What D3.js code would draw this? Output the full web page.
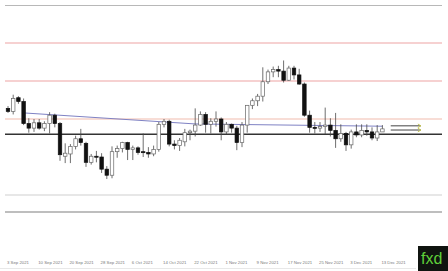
<!DOCTYPE html>
<html>
<head>
<meta charset="utf-8">
<script src="https://cdn.jsdelivr.net/npm/d3@7"></script>
<style>
  body { margin: 0; background: #fff; }
  svg { display: block; }
</style>
</head>
<body>
<svg id="chart"></svg>
<script>

// daily gold candles, 2 Sep - 13 Dec 2021
var dates = ["2 Sep","3 Sep","6 Sep","7 Sep","8 Sep","9 Sep","10 Sep","13 Sep","14 Sep","15 Sep",
  "16 Sep","17 Sep","20 Sep","21 Sep","22 Sep","23 Sep","24 Sep","27 Sep","28 Sep","29 Sep",
  "30 Sep","1 Oct","4 Oct","5 Oct","6 Oct","7 Oct","8 Oct","11 Oct","12 Oct","13 Oct",
  "14 Oct","15 Oct","18 Oct","19 Oct","20 Oct","21 Oct","22 Oct","25 Oct","26 Oct","27 Oct",
  "28 Oct","29 Oct","1 Nov","2 Nov","3 Nov","4 Nov","5 Nov","8 Nov","9 Nov","10 Nov",
  "11 Nov","12 Nov","15 Nov","16 Nov","17 Nov","18 Nov","19 Nov","22 Nov","23 Nov","24 Nov",
  "25 Nov","26 Nov","29 Nov","30 Nov","1 Dec","2 Dec","3 Dec","6 Dec","7 Dec","8 Dec",
  "9 Dec","10 Dec","13 Dec"];

var opens  = [1814,1810,1828,1823,1794,1788,1795,1788,1794,1805,
  1794,1751,1754,1764,1774,1768,1743,1751,1750,1734,
  1726,1757,1761,1769,1760,1762,1757,1756,1754,1760,
  1793,1797,1767,1765,1770,1782,1784,1792,1806,1793,
  1797,1800,1783,1793,1788,1769,1792,1818,1824,1830,
  1849,1862,1865,1863,1851,1867,1858,1846,1805,1789,
  1788,1790,1792,1785,1774,1781,1766,1783,1779,1785,
  1783,1775,1783];
var highs  = [1817,1832,1830,1827,1801,1800,1800,1797,1809,1807,
  1796,1768,1767,1778,1787,1770,1754,1758,1755,1738,
  1764,1765,1770,1770,1765,1764,1781,1763,1765,1796,
  1800,1799,1772,1775,1787,1786,1814,1810,1809,1801,
  1810,1802,1796,1794,1791,1796,1818,1827,1833,1868,
  1865,1869,1870,1877,1870,1870,1866,1848,1811,1796,
  1796,1815,1801,1808,1793,1783,1786,1793,1793,1793,
  1789,1792,1792];
var lows   = [1808,1806,1820,1792,1782,1783,1786,1784,1781,1789,
  1745,1742,1742,1760,1765,1737,1740,1743,1729,1721,
  1722,1749,1756,1746,1746,1753,1750,1749,1751,1757,
  1789,1764,1760,1758,1764,1772,1777,1791,1782,1781,
  1790,1772,1780,1782,1759,1763,1782,1813,1817,1823,
  1846,1855,1855,1848,1850,1852,1845,1803,1782,1781,
  1783,1780,1777,1762,1770,1758,1761,1776,1776,1778,
  1772,1771,1783];
var closes = [1810,1827,1823,1794,1788,1795,1788,1794,1805,1794,
  1753,1755,1764,1774,1769,1743,1751,1750,1734,1726,
  1757,1761,1769,1760,1762,1756,1756,1754,1760,1793,
  1797,1767,1765,1772,1782,1784,1792,1806,1793,1797,
  1800,1783,1793,1788,1769,1792,1818,1824,1830,1849,
  1862,1865,1863,1851,1867,1858,1846,1805,1789,1788,
  1790,1792,1785,1774,1781,1766,1783,1779,1785,1783,
  1775,1783,1787];

// date labels under the chart, one every 6 bars
var tickBars   = [0,6,12,18,24,30,36,42,48,54,60,66,72];
var tickLabels = ["3 Sep 2021","10 Sep 2021","20 Sep 2021","28 Sep 2021","6 Oct 2021","14 Oct 2021",
  "22 Oct 2021","1 Nov 2021","9 Nov 2021","17 Nov 2021","25 Nov 2021","3 Dec 2021","13 Dec 2021"];

// horizontal price levels
var redLevels  = [1900, 1850];
var orangeLevels = [1800];
var blackLevels = [1780];
var grayLevels = [1700];

// blue trend line (bar, price)
var trendBars   = [3, 36, 72];
var trendPrices = [1808, 1793.5, 1790.5];

// price arrows right of the last bar
var arrowPrices = [1791, 1785.5];

var width = 448;
var height = 271;
var left = 5, right = 442;

var svg = d3.select("#chart")
  .attr("width", width)
  .attr("height", height);

var x = d3.scaleLinear().domain([0, 72]).range([8, 382.4]);
var y = d3.scaleLinear().domain([1675, 1950]).range([214, 5]);

// frame lines
svg.append("line")
  .attr("x1", left).attr("x2", right)
  .attr("y1", 5.5).attr("y2", 5.5)
  .attr("stroke", "#b8b8b8").attr("stroke-width", 1.2);
svg.append("line")
  .attr("x1", left).attr("x2", right)
  .attr("y1", 212).attr("y2", 212)
  .attr("stroke", "#a8a8a8").attr("stroke-width", 1.6);
svg.append("line")
  .attr("x1", 0).attr("x2", 416)
  .attr("y1", 268.5).attr("y2", 268.5)
  .attr("stroke", "#e8e8e8").attr("stroke-width", 1);

var drawLevels = function(levels, color, w)
{
  svg.selectAll(null)
    .data(levels)
    .enter()
    .append("line")
    .attr("x1", left)
    .attr("x2", right)
    .attr("y1", function(d) { return y(d); })
    .attr("y2", function(d) { return y(d); })
    .attr("stroke", color)
    .attr("stroke-width", w);
}

drawLevels(grayLevels, "#cfcfcf", 1.2);
drawLevels(redLevels, "#eea4a4", 1.2);
drawLevels(orangeLevels, "#f1bcae", 1.2);

// trend line
var trend = trendBars.map(function(b, i) { return [x(b), y(trendPrices[i])]; });
svg.append("path")
  .attr("d", d3.line()(trend))
  .attr("fill", "none")
  .attr("stroke", "#7f82c4")
  .attr("stroke-width", 1);

drawLevels(blackLevels, "#333", 1.4);

// candles
var bars = d3.range(opens.length);
var bodyW = 3.5;

svg.selectAll(".wick")
  .data(bars)
  .enter()
  .append("line")
  .attr("class", "wick")
  .attr("x1", function(i) { return x(i); })
  .attr("x2", function(i) { return x(i); })
  .attr("y1", function(i) { return y(highs[i]); })
  .attr("y2", function(i) { return y(lows[i]); })
  .attr("stroke", "#4a4a4a")
  .attr("stroke-width", 0.8);

svg.selectAll(".body")
  .data(bars)
  .enter()
  .append("rect")
  .attr("class", "body")
  .attr("x", function(i) { return x(i) - bodyW / 2; })
  .attr("y", function(i) { return y(Math.max(opens[i], closes[i])); })
  .attr("width", bodyW)
  .attr("height", function(i) { return Math.max(1, Math.abs(y(opens[i]) - y(closes[i]))); })
  .attr("fill", function(i) { return closes[i] >= opens[i] ? "#fff" : "#111"; })
  .attr("stroke", function(i) { return closes[i] >= opens[i] ? "#666" : "#111"; })
  .attr("stroke-width", 0.7);

// price arrows
svg.selectAll(".arrow")
  .data(arrowPrices)
  .enter()
  .append("line")
  .attr("class", "arrow")
  .attr("x1", x(73.6))
  .attr("x2", x(79.4))
  .attr("y1", function(d) { return y(d); })
  .attr("y2", function(d) { return y(d); })
  .attr("stroke", "#444")
  .attr("stroke-width", 1);

svg.selectAll(".head")
  .data(arrowPrices)
  .enter()
  .append("path")
  .attr("class", "head")
  .attr("d", function(d)
    {
      var ax = x(79.4), ay = y(d);
      return "M" + (ax - 3) + "," + (ay - 1.8) + "L" + ax + "," + ay + "L" + (ax - 3) + "," + (ay + 1.8);
    })
  .attr("fill", "none")
  .attr("stroke", "#c8c850")
  .attr("stroke-width", 1);

// date labels
svg.selectAll(".tick")
  .data(tickBars)
  .enter()
  .append("text")
  .attr("class", "tick")
  .text(function(d, i) { return tickLabels[i]; })
  .attr("x", function(d) { return x(d) - 1; })
  .attr("y", 264)
  .attr("fill", "#7a7a7a")
  .attr("font-family", "Arial, 'Liberation Sans', sans-serif")
  .attr("font-size", "4.3px");

// logo box
svg.append("rect")
  .attr("x", 418).attr("y", 246)
  .attr("width", 30).attr("height", 25)
  .attr("fill", "#101410");
svg.append("text")
  .text("fxd")
  .attr("x", 421)
  .attr("y", 264)
  .attr("fill", "#5fd13a")
  .attr("font-family", "Arial, 'Liberation Sans', sans-serif")
  .attr("font-size", "16px");

</script>
</body>
</html>
